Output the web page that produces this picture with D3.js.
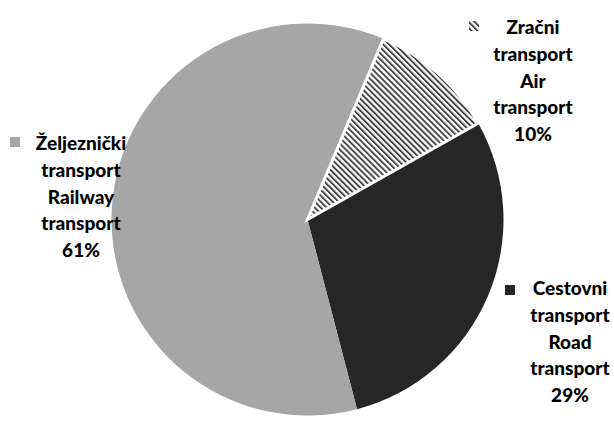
<!DOCTYPE html>
<html>
<head>
<meta charset="utf-8">
<script src="https://cdn.jsdelivr.net/npm/d3@7"></script>
<style>
  body { margin: 0; background: #fff; }
  text { font-family: Lato, "Open Sans", sans-serif; font-weight: 900; fill: #000; }
</style>
</head>
<body>
<svg id="graphContainer" width="614" height="432"></svg>
<script>
// slice order as drawn clockwise (starting at the road slice)
let categories = ["Cestovni transport Road transport", "Željeznički transport Railway transport", "Zračni transport Air transport"];
let values = [29.1, 60.4, 10.5];
let percentLabels = ["29%", "61%", "10%"];
let labelLines = [
  ["Cestovni", "transport", "Road", "transport"],
  ["Željeznički", "transport", "Railway", "transport"],
  ["Zračni", "transport", "Air", "transport"]
];

let colors = ["#262626", "#a6a6a6", "url(#stripes)"];

let width = 614, height = 432;
let cx = 307.5, cy = 219.5, radius = 196;

let svg = d3.select("#graphContainer");

// diagonal stripe fill for the air slice
let defs = svg.append("defs");
let pat = defs.append("pattern")
  .attr("id", "stripes")
  .attr("patternUnits", "userSpaceOnUse")
  .attr("width", 4.2)
  .attr("height", 4.2)
  .attr("patternTransform", "rotate(-45)");
pat.append("rect").attr("width", 4.2).attr("height", 4.2).attr("fill", "#fff");
pat.append("rect").attr("width", 1.9).attr("height", 4.2).attr("fill", "#444");

let data = categories.map(function(c, i) {
  return {name: c, value: values[i], color: colors[i], pct: percentLabels[i], lines: labelLines[i]};
});

let startA = 60.6 * Math.PI / 180;
let pie = d3.pie()
  .value(function(d) { return d.value; })
  .sort(null)
  .startAngle(startA)
  .endAngle(startA + 2 * Math.PI);

let arc = d3.arc().innerRadius(0).outerRadius(radius);

let g = svg.append("g").attr("transform", "translate(" + cx + "," + cy + ")");

let pies = pie(data);

g.selectAll("path")
  .data(pies)
  .enter()
  .append("path")
    .attr("d", arc)
    .attr("fill", function(d) { return d.data.color; })
    .attr("stroke", function(d, i) { return i == 2 ? "#fff" : "none"; })
    .attr("stroke-width", 3);

// labels: center x, first line y, marker position
let labelPos = [
  {x: 570, y: 295, mx: 505, my: 285},
  {x: 81, y: 150, mx: 10, my: 137},
  {x: 533, y: 34, mx: 469, my: 21}
];

let lineH = 26.8;
data.forEach(function(d, i) {
  let p = labelPos[i];
  let lab = svg.append("g");
  let allLines = d.lines.concat([d.pct]);
  allLines.forEach(function(t, j) {
    lab.append("text")
      .attr("x", p.x)
      .attr("y", p.y + j * lineH)
      .attr("text-anchor", "middle")
      .attr("font-size", 19)
      .text(t);
  });
  lab.append("rect")
    .attr("x", p.mx)
    .attr("y", p.my)
    .attr("width", 10)
    .attr("height", 10)
    .attr("fill", d.color);
});
</script>
</body>
</html>
